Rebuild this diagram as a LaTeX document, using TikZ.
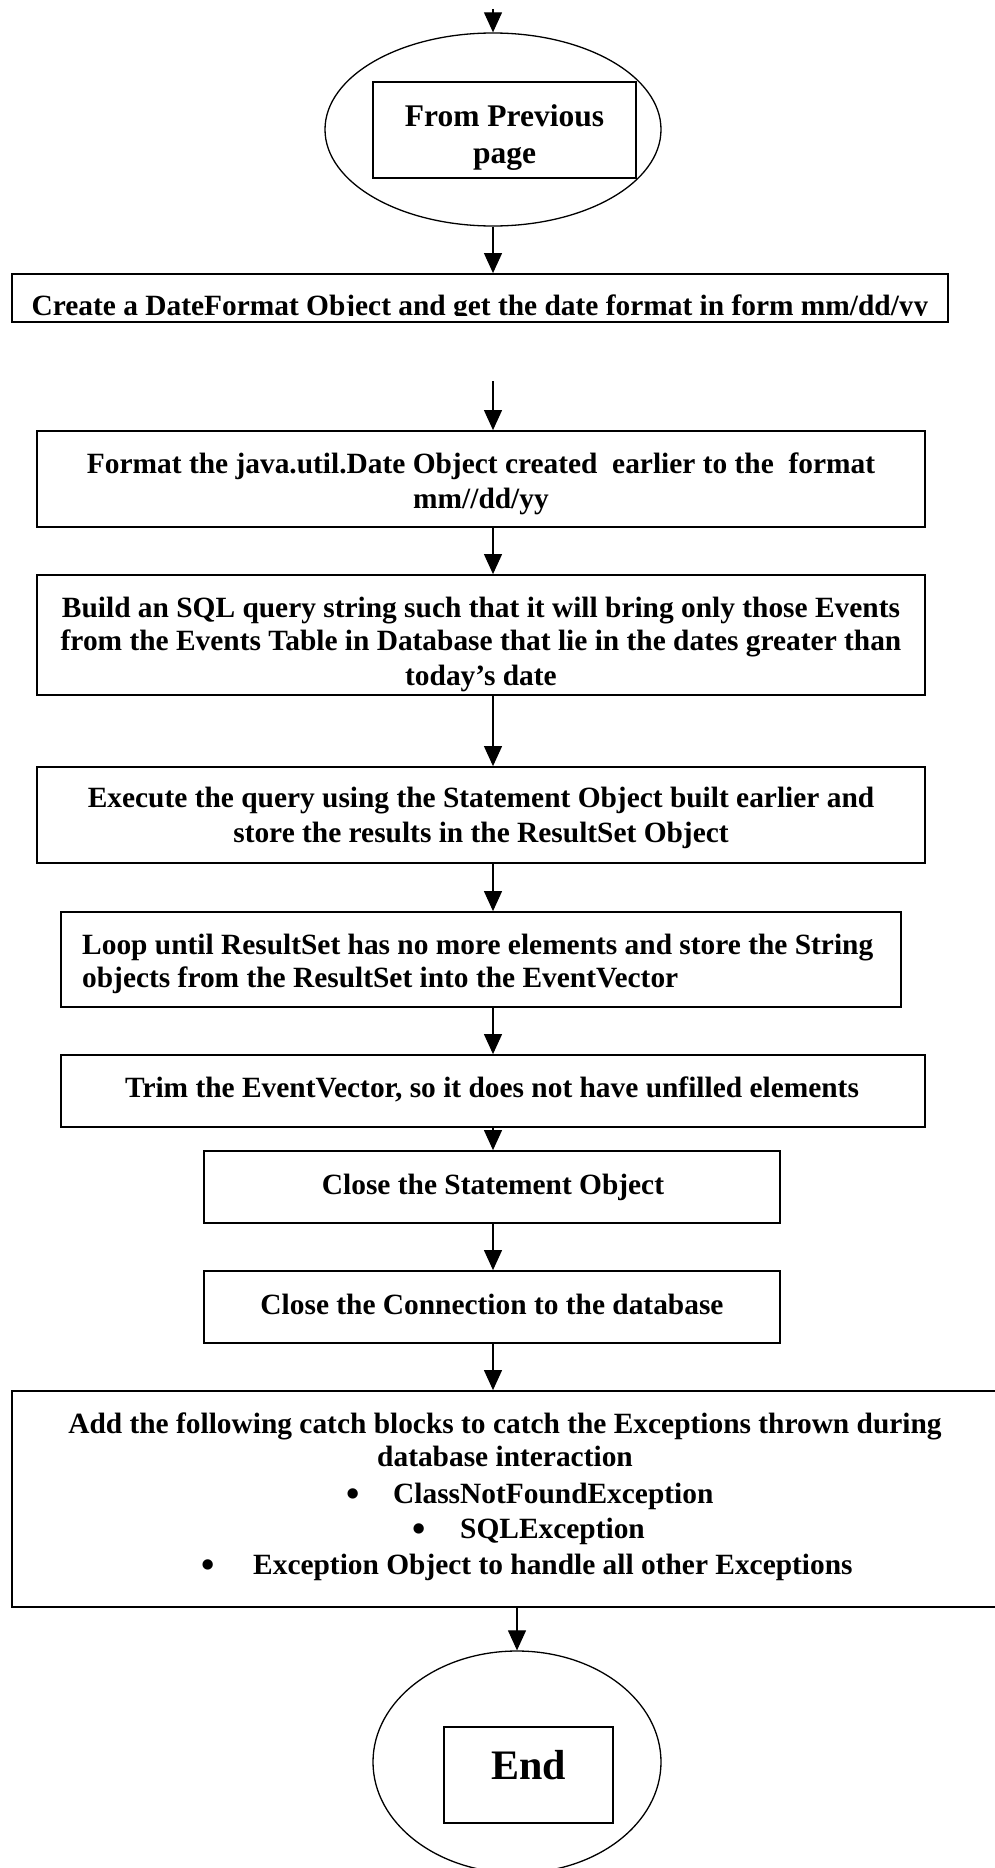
\documentclass[tikz,border=0pt]{standalone}
\usepackage{fontspec}
\setmainfont{Liberation Serif}
\usetikzlibrary{shapes.geometric,arrows.meta}
\begin{document}
\begin{tikzpicture}[x=1pt,y=-1pt,
  box/.style={draw, line width=1.8pt, inner sep=0pt},
  oval/.style={draw, ellipse, line width=1.3pt, inner sep=0pt},
  txt/.style={font=\fontsize{29.4}{33}\selectfont\bfseries, inner sep=0pt, anchor=base},
  ltxt/.style={txt, anchor=base west},
  bul/.style={txt, font=\fontsize{38}{40}\selectfont\bfseries},
  arr/.style={line width=1.1pt, -{Triangle[width=18pt,length=20pt]}}]
\useasboundingbox (0,0) rectangle (995,1868);
% ovals
\node[oval, minimum width=336pt, minimum height=193pt] (e1) at (493,129.5) {};
\node[box, minimum width=263pt, minimum height=96pt] (ib1) at (504.5,130) {};
\node[txt, font=\fontsize{31.5}{36}\selectfont\bfseries] (t1a) at (504.5,126) {From Previous};
\node[txt, font=\fontsize{31.5}{36}\selectfont\bfseries] (t1b) at (504.5,163) {page};
% boxes
\node[box, minimum width=936pt, minimum height=48pt] (b2) at (480,298) {};
\begin{scope}
\clip (12,274) rectangle (948,315);
\node[txt] (t2) at (480,315.5) {Create a DateFormat Object and get the date format in form mm/dd/yy};
\end{scope}
\node[box, minimum width=888pt, minimum height=96pt] (b3) at (481,479) {};
\node[txt] (t3a) at (481,473) {Format the java.util.Date Object created\ \ earlier to the\ \ format};
\node[txt] (t3b) at (481,508) {mm//dd/yy};
\node[box, minimum width=888pt, minimum height=120pt] (b4) at (481,635) {};
\node[txt] (t4a) at (481,617) {Build an SQL query string such that it will bring only those Events};
\node[txt] (t4b) at (481,650) {from the Events Table in Database that lie in the dates greater than};
\node[txt] (t4c) at (481,685) {today’s date};
\node[box, minimum width=888pt, minimum height=96pt] (b5) at (481,815) {};
\node[txt] (t5a) at (481,807) {Execute the query using the Statement Object built earlier and};
\node[txt] (t5b) at (481,842) {store the results in the ResultSet Object};
\node[box, minimum width=840pt, minimum height=95pt] (b6) at (481,959.5) {};
\node[ltxt] (t6a) at (82,954) {Loop until ResultSet has no more elements and store the String};
\node[ltxt] (t6b) at (82,987) {objects from the ResultSet into the EventVector};
\node[box, minimum width=864pt, minimum height=72pt] (b7) at (493,1091) {};
\node[txt] (t7) at (492,1097) {Trim the EventVector, so it does not have unfilled elements};
\node[box, minimum width=576pt, minimum height=72pt] (b8) at (492,1187) {};
\node[txt] (t8) at (493,1194) {Close the Statement Object};
\node[box, minimum width=576pt, minimum height=72pt] (b9) at (492,1307) {};
\node[txt] (t9) at (492,1314) {Close the Connection to the database};
\node[box, minimum width=998pt, minimum height=216pt] (b10) at (511,1499) {};
\node[txt] (t10a) at (505,1433) {Add the following catch blocks to catch the Exceptions thrown during};
\node[txt] (t10b) at (505,1466) {database interaction};
\node[bul] (u1) at (353,1506) {•};
\node[ltxt] (t10c) at (393,1503) {ClassNotFoundException};
\node[bul] (u2) at (419,1541) {•};
\node[ltxt] (t10d) at (460,1538) {SQLException};
\node[bul] (u3) at (208,1577) {•};
\node[ltxt] (t10e) at (253,1574) {Exception Object to handle all other Exceptions};
% end oval
\node[oval, minimum width=288pt, minimum height=222pt] (e2) at (517,1762) {};
\node[box, minimum width=169pt, minimum height=96pt] (ib2) at (528.5,1775) {};
\node[txt, font=\fontsize{42}{48}\selectfont\bfseries] (tend) at (528.5,1779) {End};
% connectors
\coordinate (ax) at (493,0);
\coordinate (bx) at (517,0);
\coordinate (s0) at (493,9);
\coordinate (s2) at (493,381);
\draw[arr] (s0) -- (e1.north);
\draw[arr] (e1.south) -- (b2.north -| ax);
\draw[arr] (s2) -- (b3.north -| ax);
\draw[arr] (b3.south -| ax) -- (b4.north -| ax);
\draw[arr] (b4.south -| ax) -- (b5.north -| ax);
\draw[arr] (b5.south -| ax) -- (b6.north -| ax);
\draw[arr] (b6.south -| ax) -- (b7.north -| ax);
\draw[arr] (b7.south -| ax) -- (b8.north -| ax);
\draw[arr] (b8.south -| ax) -- (b9.north -| ax);
\draw[arr] (b9.south -| ax) -- (b10.north -| ax);
\draw[arr] (b10.south -| bx) -- (e2.north);
\end{tikzpicture}
\end{document}
